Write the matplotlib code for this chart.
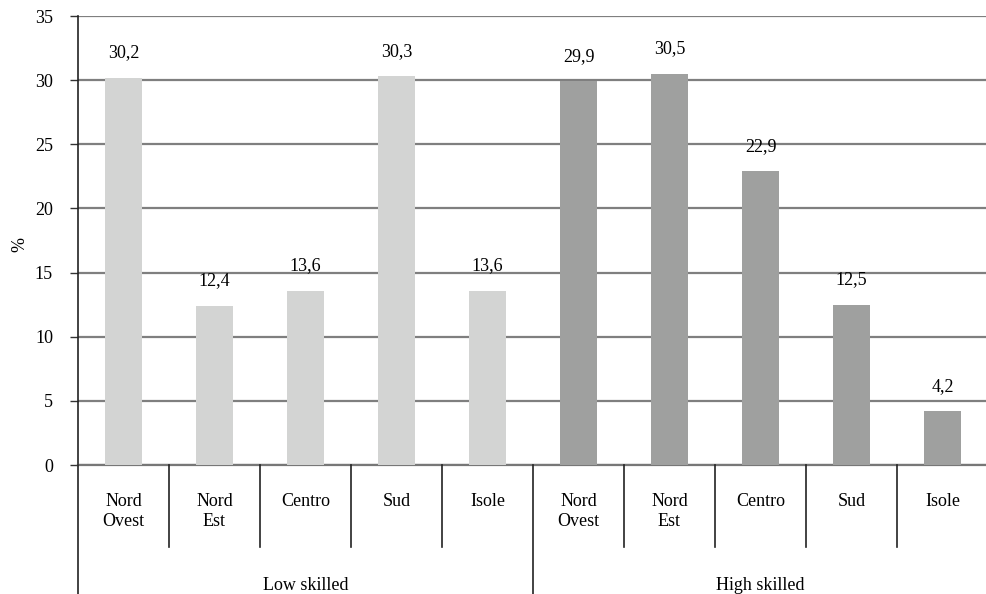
import matplotlib
matplotlib.use("Agg")
import matplotlib.pyplot as plt
from matplotlib.transforms import blended_transform_factory
from matplotlib.lines import Line2D

regions = ["Nord\nOvest", "Nord\nEst", "Centro", "Sud", "Isole"]
groups = ["Low skilled", "High skilled"]
low_skilled = [30.2, 12.4, 13.6, 30.3, 13.6]
high_skilled = [29.9, 30.5, 22.9, 12.5, 4.2]
group_colors = ["#d3d4d3", "#9fa09f"]
yticks = [0, 5, 10, 15, 20, 25, 30, 35]

plt.rcParams["font.family"] = ["Liberation Serif", "DejaVu Serif"]
FS = 13

W, H = 986, 594
fig = plt.figure(figsize=(W / 100, H / 100), dpi=100)
ax = fig.add_axes([78 / W, 1 - 465 / H, (988 - 78) / W, (465 - 16) / H])

series = [low_skilled, high_skilled]
n = len(regions)
for g, vals in enumerate(series):
    xs = [g * n + i for i in range(n)]
    ax.bar(xs, vals, width=0.4, color=group_colors[g], zorder=3)
    for x, v in zip(xs, vals):
        ax.annotate(f"{v:.1f}".replace(".", ","), (x, v), xytext=(0, 18),
                    textcoords="offset points", ha="center", va="center",
                    fontsize=FS, zorder=4)

ax.set_xlim(-0.5, 2 * n - 0.5)
ax.set_ylim(0, 35)
ax.set_yticks(yticks)
ax.set_yticklabels([str(t) for t in yticks], fontsize=FS)
ax.tick_params(axis="y", length=6, width=1, color="#333333", pad=12)
ax.set_xticks([])
ax.yaxis.grid(True, color="#7f7f7f", linewidth=1.6, zorder=0)
for s in ["top", "right"]:
    ax.spines[s].set_visible(False)
ax.spines["left"].set_color("#222222")
ax.spines["left"].set_linewidth(1.2)
ax.spines["bottom"].set_color("#777777")
ax.spines["bottom"].set_linewidth(1.6)
ax.set_ylabel("%", fontsize=FS)
ax.yaxis.set_label_coords(28 / W, 1 - 245 / H, transform=fig.transFigure)

# two-level category axis below the plot
tr = blended_transform_factory(ax.transData, fig.transFigure)
y_axis = 1 - 465 / H
y_inner = 1 - 547 / H
for k in range(2 * n + 1):
    x = k - 0.5
    y_end = 0.0 if k % n == 0 else y_inner
    fig.add_artist(Line2D([x, x], [y_axis, y_end], transform=tr,
                          color="#222222", linewidth=1.2))
for g in range(2):
    for i, r in enumerate(regions):
        fig.text(g * n + i, 1 - 493 / H, r, transform=tr, ha="center",
                 va="top", fontsize=FS, linespacing=1.2)
    fig.text(g * n + (n - 1) / 2, 1 - 585 / H, groups[g], transform=tr,
             ha="center", va="center", fontsize=FS)

fig.savefig("out.png", dpi=100)
